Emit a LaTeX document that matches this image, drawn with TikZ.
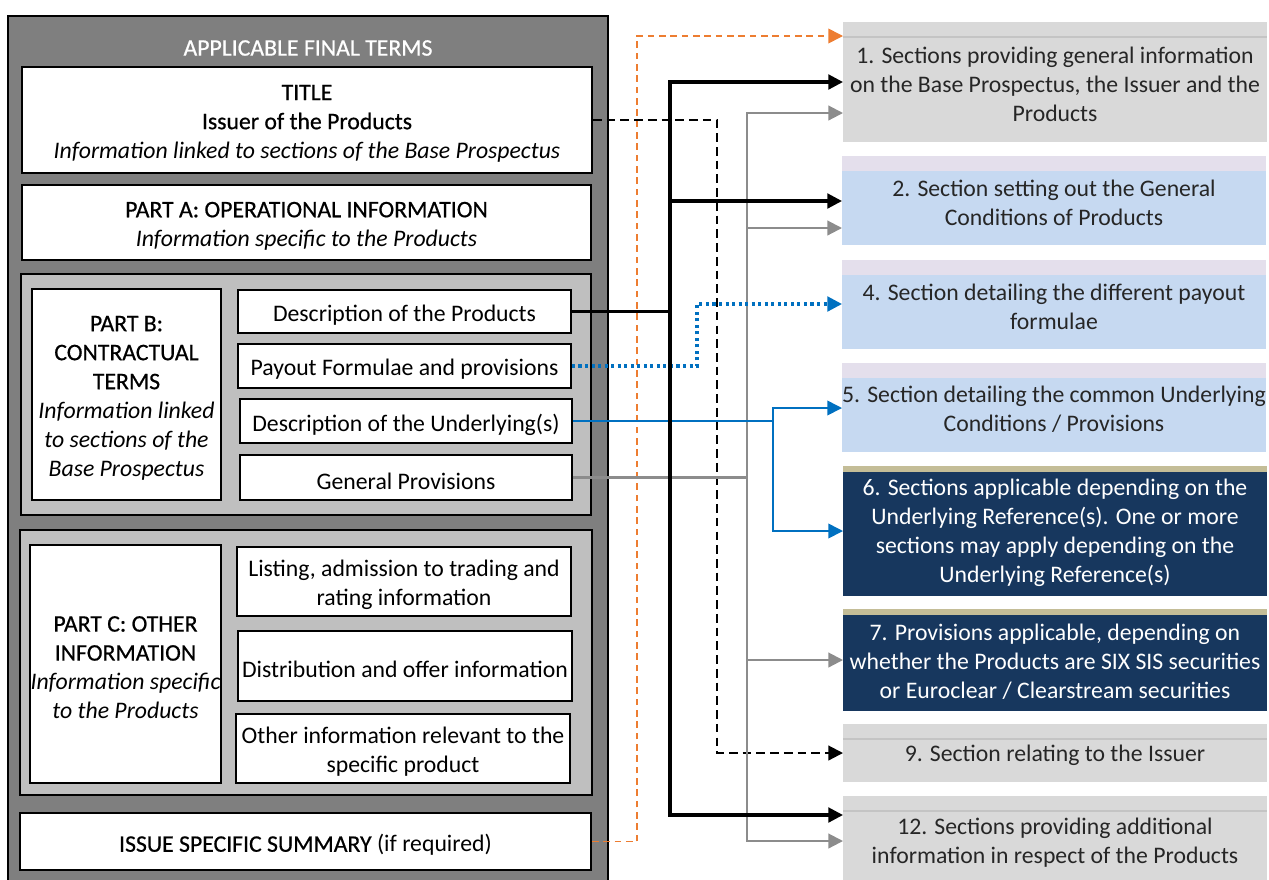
\documentclass[tikz,border=0pt]{standalone}
\usepackage{fontspec}
\setmainfont{Carlito}
\newfontfamily\headf[FakeBold=0.6]{Carlito}
\usetikzlibrary{arrows.meta,calc}
\definecolor{outerg}{HTML}{7F7F7F}
\definecolor{partg}{HTML}{BFBFBF}
\definecolor{secg}{HTML}{D9D9D9}
\definecolor{secgline}{HTML}{C4C4C4}
\definecolor{lblue}{HTML}{C6D9F1}
\definecolor{lav}{HTML}{E4DFEC}
\definecolor{navy}{HTML}{17375E}
\definecolor{tanc}{HTML}{C4BD97}
\definecolor{orangec}{HTML}{ED7D31}
\definecolor{bluec}{HTML}{0070C0}
\definecolor{grayc}{HTML}{8C8C8C}
\definecolor{txt}{HTML}{262626}
\newcommand\hd[1]{{\headf #1}}
\newcommand\bx[8]{%
  \node[#1, minimum width={(#5-#3)*0.75pt}, minimum height={(#6-#4)*0.75pt}] (#7) at ({(#3+#5)/2},{(#4+#6)/2}) {};
  \node[#2] (#7-t) at (#7.center) {#8};}
\tikzset{
  every node/.style={font=\fontsize{17.8}{21.75}\selectfont},
  wbox/.style={draw=black, line width=1.4pt, fill=white, inner sep=0pt},
  pbox/.style={draw=black, line width=1.4pt, fill=partg, inner sep=0pt},
  obox/.style={draw=black, line width=1.6pt, fill=outerg, inner sep=0pt},
  ltxt/.style={align=center, text=black, inner sep=0pt, yshift=-2.6pt},
  rtxt/.style={align=center, text=txt, inner sep=0pt, yshift=-1.5pt},
  wtxt/.style={align=center, text=white, inner sep=0pt, yshift=-1.5pt},
  rsec/.style 2 args={fill=#1, inner sep=0pt,
    path picture={\fill[#2] (path picture bounding box.north west) rectangle ([yshift=-11.25pt]path picture bounding box.north east);}},
  rsecd/.style={fill=navy, inner sep=0pt,
    path picture={\fill[tanc] (path picture bounding box.north west) rectangle ([yshift=-4.5pt]path picture bounding box.north east);}},
  rsecg/.style={fill=secg, inner sep=0pt,
    path picture={\draw[secgline, line width=0.8pt] ([yshift=-11.25pt]path picture bounding box.north west) -- ([yshift=-11.25pt]path picture bounding box.north east);}},
  tip/.style={-{Triangle[length=11pt,width=11pt]}},
  blk/.style={draw=black, line width=2.3pt},
  blkd/.style={draw=black, line width=1.6pt, dash pattern=on 6.5pt off 3.8pt},
  grl/.style={draw=grayc, line width=1.6pt},
  orl/.style={draw=orangec, line width=1.2pt, dash pattern=on 5pt off 3.5pt},
  bld/.style={draw=bluec, line width=2.3pt, dash pattern=on 2.3pt off 2.6pt},
  bll/.style={draw=bluec, line width=1.2pt},
}
\begin{document}
\begin{tikzpicture}[x=0.75pt,y=-0.75pt]
\useasboundingbox (0,0) rectangle (1269,879);
% left panel
\bx{obox}{ltxt}{8}{16}{608}{890}{outer}{}
\node[text=white] (aftt) at (308,48) {\hd{APPLICABLE FINAL TERMS}};
\bx{wbox}{ltxt}{22}{67}{592}{173}{ttl}{\hd{TITLE}\\\hd{Issuer of the Products}\\\textit{Information linked to sections of the Base Prospectus}}
\bx{wbox}{ltxt}{22}{185}{591}{260}{pa}{\hd{PART A: OPERATIONAL INFORMATION}\\\textit{Information specific to the Products}}
\bx{pbox}{ltxt}{21}{274}{591}{515}{pb}{}
\bx{wbox}{ltxt}{32}{289}{221}{500}{pbl}{\hd{PART B:}\\\hd{CONTRACTUAL}\\\hd{TERMS}\\\textit{Information linked}\\\textit{to sections of the}\\\textit{Base Prospectus}}
\bx{wbox}{ltxt}{238}{290}{571}{333}{b1}{Description of the Products}
\bx{wbox}{ltxt}{238}{344}{571}{388}{b2}{Payout Formulae and provisions}
\bx{wbox}{ltxt}{240}{399}{572}{443}{b3}{Description of the Underlying(s)}
\bx{wbox}{ltxt}{240}{455}{572}{500}{b4}{General Provisions}
\bx{pbox}{ltxt}{20}{530}{592}{795}{pc}{}
\bx{wbox}{ltxt}{30}{545}{221}{783}{pcl}{\hd{PART C: OTHER}\\\hd{INFORMATION}\\\textit{Information specific}\\\textit{to the Products}}
\bx{wbox}{ltxt}{237}{547}{571}{616}{c1}{Listing, admission to trading and\\rating information}
\bx{wbox}{ltxt}{238}{631}{572}{701}{c2}{Distribution and offer information}
\bx{wbox}{ltxt}{236}{714}{570}{783}{c3}{Other information relevant to the\\specific product}
\bx{wbox}{ltxt}{20}{813}{591}{870}{iss}{\hd{ISSUE SPECIFIC SUMMARY} (if required)}
% right sections
\bx{rsecg}{rtxt}{843}{22}{1267}{142}{r1}{1. Sections providing general information\\on the Base Prospectus, the Issuer and the\\Products}
\bx{rsec={lblue}{lav}}{rtxt}{842}{156}{1266}{245}{r2}{2. Section setting out the General\\Conditions of Products}
\bx{rsec={lblue}{lav}}{rtxt}{842}{260}{1266}{349}{r4}{4. Section detailing the different payout\\formulae}
\bx{rsec={lblue}{lav}}{rtxt}{842}{363}{1266}{452}{r5}{5. Section detailing the common Underlying\\Conditions / Provisions}
\bx{rsecd}{wtxt}{843}{466}{1267}{596}{r6}{6. Sections applicable depending on the\\Underlying Reference(s). One or more\\sections may apply depending on the\\Underlying Reference(s)}
\bx{rsecd}{wtxt}{843}{609}{1267}{711}{r7}{7. Provisions applicable, depending on\\whether the Products are SIX SIS securities\\or Euroclear / Clearstream securities}
\bx{rsecg}{rtxt}{843}{724}{1267}{782}{r9}{9. Section relating to the Issuer}
\bx{rsecg}{rtxt}{843}{796}{1267}{886}{r12}{12. Sections providing additional\\information in respect of the Products}
% connector coordinates
\coordinate (xo) at (637,0);
\coordinate (xk) at (670,0);
\coordinate (xp) at (697,0);
\coordinate (xd) at (717,0);
\coordinate (xg) at (747,0);
\coordinate (xu) at (773,0);
\coordinate (t1o) at (843,36);
\coordinate (t1k) at (843,82);
\coordinate (t1g) at (843,113);
\coordinate (t2k) at (842,201);
\coordinate (t2g) at (842,228);
\coordinate (t4p) at (842,304);
\coordinate (t5u) at (842,408);
\coordinate (t6u) at (843,531);
\coordinate (t7g) at (843,660);
\coordinate (t9d) at (843,753);
\coordinate (t12k) at (843,815);
\coordinate (t12g) at (843,841);
% orange dashed
\draw[orl,tip] (iss.east) -| (xo |- t1o) -- (t1o);
% black dashed
\draw[blkd,tip] (ttl.east) -| (xd |- t9d) -- (t9d);
% grey
\draw[grl,tip] (b4.east) -| (xg |- t1g) -- (t1g);
\draw[grl,tip] (xg |- t2g) -- (t2g);
\draw[grl,tip] (xg |- t7g) -- (t7g);
\draw[grl,tip] (b4.east -| xg) |- (t12g);
% blue dotted
\draw[bld,tip] (b2.east) -| (xp |- t4p) -- (t4p);
% blue solid
\draw[bll] (b3.east) -- (b3.east -| xu);
\draw[bll,tip] (b3.east -| xu) |- (t5u);
\draw[bll,tip] (b3.east -| xu) |- (t6u);
% black thick
\draw[blk,tip] (b1.east) -| (xk |- t1k) -- (t1k);
\draw[blk,tip] (xk |- t2k) -- (t2k);
\draw[blk,tip] (b1.east -| xk) |- (t12k);
\end{tikzpicture}
\end{document}
